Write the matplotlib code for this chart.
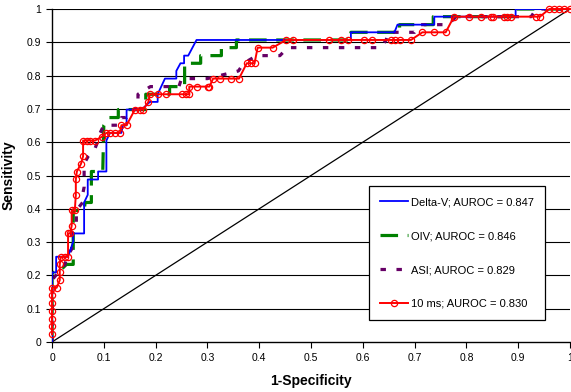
import matplotlib.pyplot as plt

plt.rcParams['font.family'] = ['Liberation Sans', 'DejaVu Sans']

# ROC curves (x = 1-specificity, y = sensitivity)
deltav_x = [0, 0, 0.008, 0.008, 0.031, 0.041, 0.041, 0.062, 0.062, 0.069, 0.069, 0.089, 0.089,
            0.105, 0.105, 0.112, 0.134, 0.137, 0.144, 0.144, 0.173, 0.189, 0.204, 0.204, 0.218,
            0.240, 0.240, 0.248, 0.255, 0.255, 0.263, 0.279, 0.577, 0.577, 0.661, 0.667, 0.738,
            0.738, 0.895, 0.895, 1.0]
deltav_y = [0, 0.209, 0.209, 0.256, 0.256, 0.302, 0.326, 0.326, 0.419, 0.442, 0.488, 0.488, 0.512,
            0.512, 0.605, 0.628, 0.628, 0.651, 0.651, 0.698, 0.698, 0.721, 0.721, 0.744, 0.791,
            0.791, 0.814, 0.837, 0.837, 0.860, 0.860, 0.907, 0.907, 0.930, 0.930, 0.953, 0.953,
            0.977, 0.977, 1.0, 1.0]

oiv_x = [0, 0, 0.012, 0.028, 0.041, 0.041, 0.062, 0.064, 0.076, 0.076, 0.098, 0.100, 0.110,
         0.128, 0.128, 0.181, 0.181, 0.227, 0.227, 0.256, 0.256, 0.287, 0.287, 0.327, 0.327,
         0.356, 0.356, 0.577, 0.577, 0.671, 0.671, 0.736, 0.736, 0.896, 0.896, 1.0]
oiv_y = [0, 0.209, 0.209, 0.233, 0.233, 0.395, 0.395, 0.419, 0.419, 0.512, 0.512, 0.651, 0.674,
         0.674, 0.698, 0.698, 0.744, 0.744, 0.767, 0.767, 0.837, 0.837, 0.860, 0.860, 0.884,
         0.884, 0.907, 0.907, 0.930, 0.930, 0.953, 0.953, 0.977, 0.977, 1.0, 1.0]

asi_x = [0, 0, 0.012, 0.025, 0.029, 0.038, 0.038, 0.047, 0.047, 0.059, 0.059, 0.062, 0.062,
         0.070, 0.083, 0.089, 0.093, 0.100, 0.131, 0.134, 0.144, 0.155, 0.166, 0.166, 0.190,
         0.245, 0.250, 0.300, 0.360, 0.370, 0.395, 0.440, 0.455, 0.635, 0.645, 0.650, 0.700,
         0.710, 0.765, 0.780, 0.925, 0.935, 1.0]
asi_y = [0, 0.186, 0.209, 0.233, 0.256, 0.279, 0.326, 0.349, 0.395, 0.419, 0.442, 0.465, 0.535,
         0.558, 0.581, 0.605, 0.628, 0.651, 0.651, 0.674, 0.674, 0.698, 0.698, 0.744, 0.767,
         0.767, 0.791, 0.791, 0.814, 0.837, 0.860, 0.860, 0.884, 0.884, 0.907, 0.930, 0.930,
         0.953, 0.953, 0.977, 0.977, 1.0, 1.0]

ms10_x = [0, 0, 0, 0, 0, 0, 0, 0.009, 0.015, 0.015, 0.015, 0.017, 0.025, 0.031, 0.031, 0.035,
          0.038, 0.038, 0.044, 0.046, 0.046, 0.048, 0.056, 0.060, 0.060, 0.067, 0.073, 0.083,
          0.096, 0.105, 0.112, 0.121, 0.131, 0.134, 0.144, 0.160, 0.170, 0.176, 0.186, 0.189,
          0.205, 0.220, 0.250, 0.258, 0.265, 0.265, 0.279, 0.301, 0.304, 0.311, 0.324, 0.346,
          0.361, 0.376, 0.385, 0.391, 0.397, 0.426, 0.452, 0.466, 0.534, 0.557, 0.572, 0.603,
          0.618, 0.655, 0.663, 0.671, 0.693, 0.715, 0.738, 0.760, 0.776, 0.805, 0.828, 0.847,
          0.852, 0.873, 0.879, 0.886, 0.934, 0.942, 0.960, 0.969, 0.979, 0.988, 1.0]
ms10_y = [0.023, 0.047, 0.070, 0.093, 0.116, 0.140, 0.163, 0.163, 0.186, 0.209, 0.233, 0.256,
          0.256, 0.256, 0.326, 0.326, 0.349, 0.395, 0.395, 0.442, 0.488, 0.512, 0.535, 0.558,
          0.605, 0.605, 0.605, 0.605, 0.616, 0.628, 0.628, 0.628, 0.628, 0.651, 0.651, 0.698,
          0.698, 0.698, 0.721, 0.744, 0.744, 0.744, 0.744, 0.744, 0.744, 0.767, 0.767, 0.767,
          0.767, 0.791, 0.791, 0.791, 0.791, 0.837, 0.837, 0.837, 0.884, 0.884, 0.907, 0.907,
          0.907, 0.907, 0.907, 0.907, 0.907, 0.907, 0.907, 0.907, 0.907, 0.930, 0.930, 0.930,
          0.977, 0.977, 0.977, 0.977, 0.977, 0.977, 0.977, 0.977, 0.977, 0.977, 1.0, 1.0, 1.0,
          1.0, 1.0]

labels = ['Delta-V; AUROC = 0.847', 'OIV; AUROC = 0.846', 'ASI; AUROC = 0.829', '10 ms; AUROC = 0.830']
ticks = [0, 0.1, 0.2, 0.3, 0.4, 0.5, 0.6, 0.7, 0.8, 0.9, 1]
tick_labels = ['0', '0.1', '0.2', '0.3', '0.4', '0.5', '0.6', '0.7', '0.8', '0.9', '1']

fig = plt.figure(figsize=(5.71, 3.92), dpi=100)
ax = fig.add_axes([52/571, 1 - 342/392, 518/571, 333/392])

for t in ticks[1:]:
    ax.axhline(t, color='black', lw=0.8, zorder=0)
ax.plot([0, 1], [0, 1], color='black', lw=0.9, zorder=1)

ax.plot(deltav_x, deltav_y, color='#0000ff', lw=1.3, label=labels[0], zorder=3)
ax.plot(oiv_x, oiv_y, color='#008000', lw=2.3, dashes=(5.5, 3), label=labels[1], zorder=2)
ax.plot(asi_x, asi_y, color='#660066', lw=2.3, dashes=(1.7, 3.3), label=labels[2], zorder=2)
ax.plot(ms10_x, ms10_y, color='#ff0000', lw=1.4, marker='o', ms=4.5, mfc='none', mec='#ff0000',
        mew=0.9, label=labels[3], zorder=4, clip_on=False)

ax.set_xlim(0, 1)
ax.set_ylim(0, 1)
ax.set_xticks(ticks)
ax.set_xticklabels(tick_labels)
ax.set_yticks(ticks)
ax.set_yticklabels(tick_labels)
ax.tick_params(labelsize=7.5, direction='out', length=4, width=0.8, pad=4)
for s in ['top', 'right']:
    ax.spines[s].set_visible(False)
for s in ['left', 'bottom']:
    ax.spines[s].set_linewidth(1)

ax.set_xlabel('1-Specificity', fontsize=10, fontweight='bold', labelpad=8)
ax.set_ylabel('Sensitivity', fontsize=10, fontweight='bold', labelpad=8)

leg = ax.legend(loc='upper left', bbox_to_anchor=(0.612, 0.468), borderaxespad=0, fontsize=8,
                labelspacing=2.15, handlelength=2.5, handletextpad=0.3, borderpad=1.0,
                numpoints=1, fancybox=False, framealpha=1, edgecolor='black')
leg.get_frame().set_linewidth(0.9)

plt.savefig('out.png', dpi=100)
